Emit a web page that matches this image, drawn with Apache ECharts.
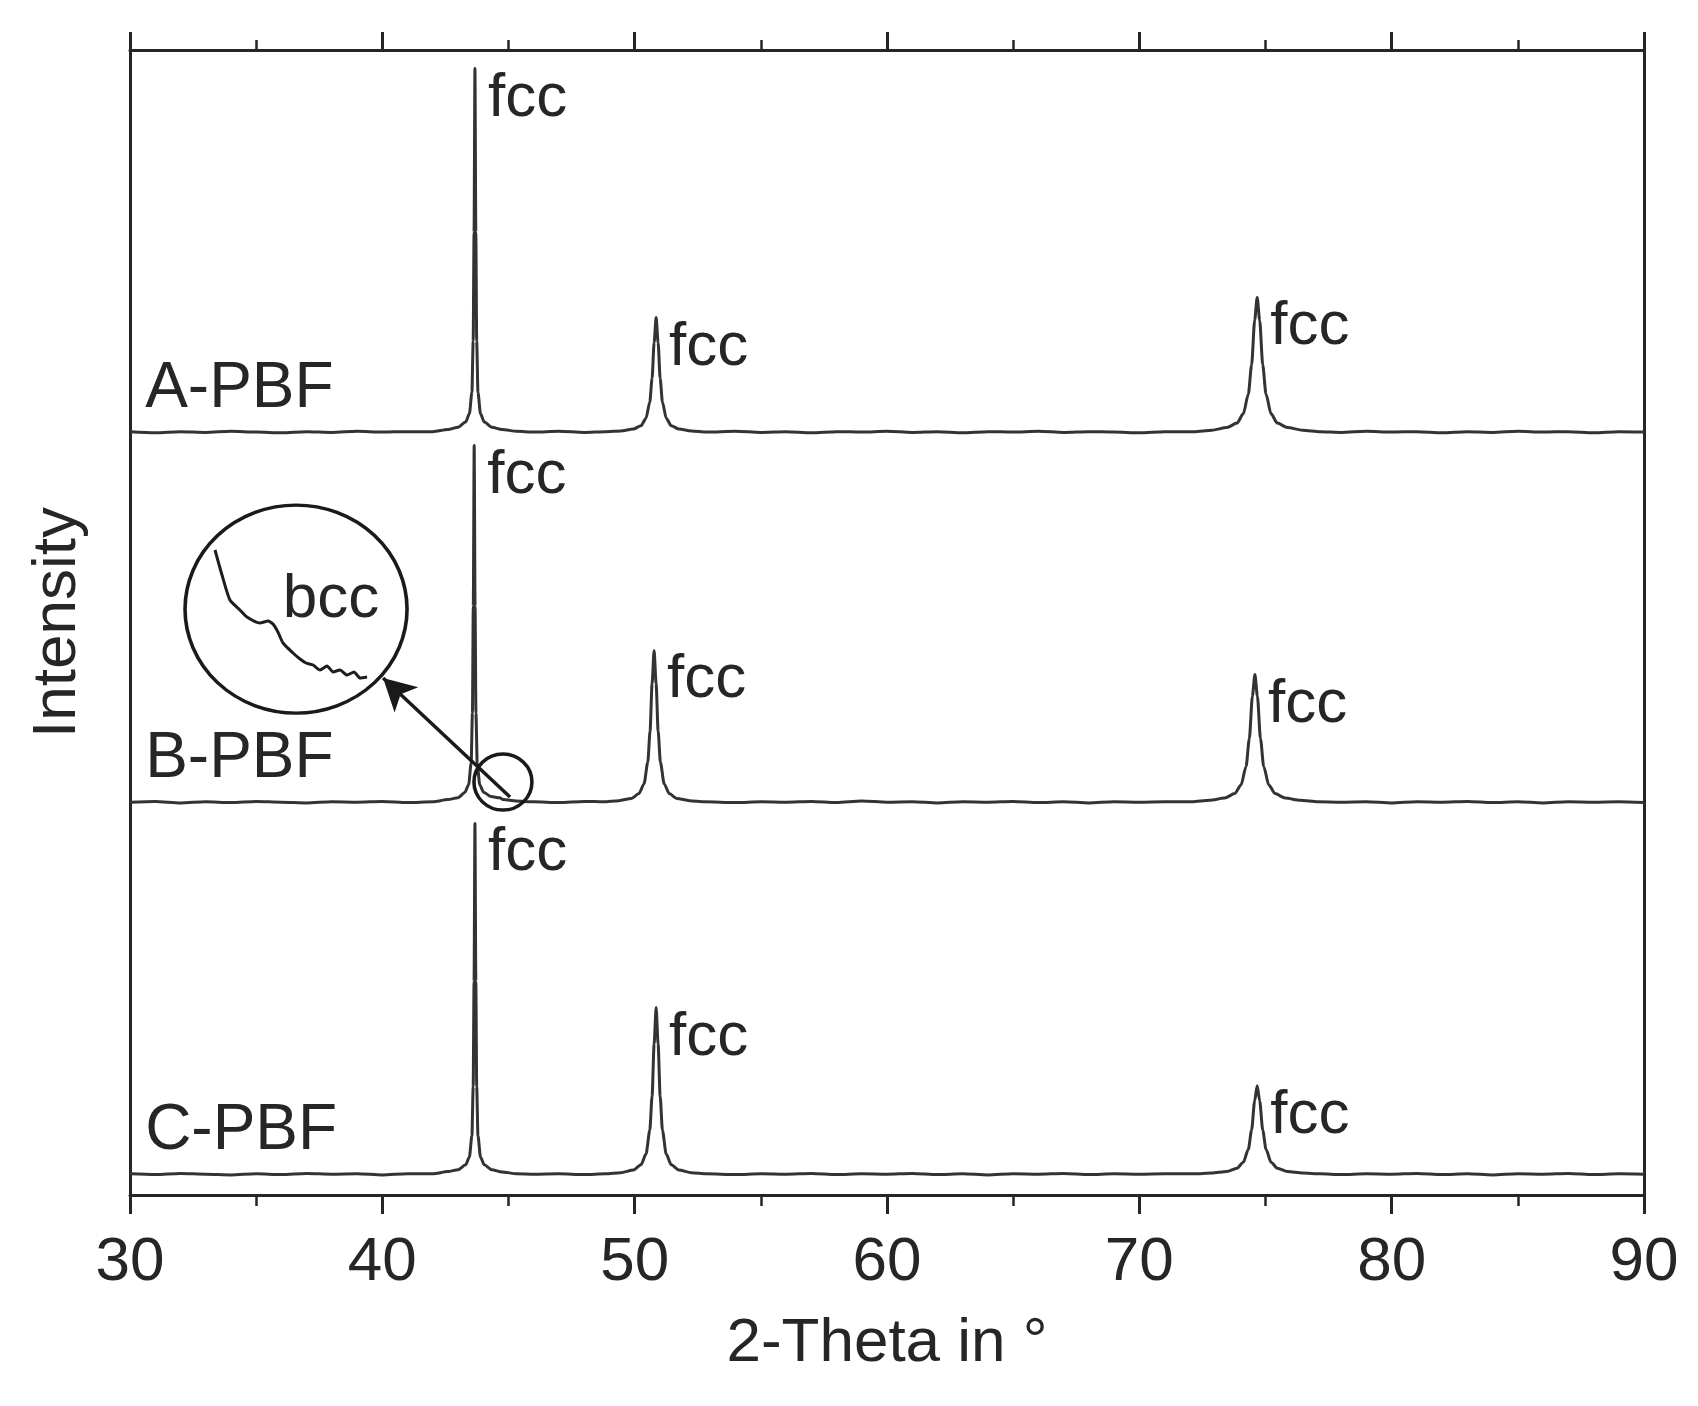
<!DOCTYPE html>
<html>
<head>
<meta charset="utf-8">
<title>XRD A/B/C-PBF</title>
<script src="https://cdn.jsdelivr.net/npm/echarts@6.0.0/dist/echarts.min.js"></script>
<style>
  html, body { margin: 0; padding: 0; background: #fff; }
  #main { width: 1698px; height: 1406px; }
</style>
</head>
<body>
<div id="main"></div>
<script>
// 2-Theta (deg) / intensity (a.u., each pattern from its own baseline)
const aPBF = [
  [30.0, 0.002], [31.0, -0.001], [32.0, 0.002], [33.0, 0.000], [34.0, 0.003], [35.0, 0.001],
  [36.0, -0.001], [37.0, 0.002], [38.0, 0.000], [39.0, 0.003], [40.0, 0.001], [41.0, 0.002],
  [42.0, 0.002], [42.6, 0.008], [43.0, 0.014], [43.3, 0.028], [43.45, 0.05], [43.55, 0.108],
  [43.6, 0.245], [43.635, 0.538], [43.67, 0.978], [43.705, 0.538], [43.74, 0.245], [43.79, 0.108],
  [43.89, 0.05], [44.04, 0.028], [44.34, 0.014], [44.74, 0.008], [45.34, 0.003],
  [46.0, 0.001], [47.0, 0.003], [48.0, 0.000],
  [48.85, 0.002], [49.45, 0.004], [49.95, 0.009], [50.25, 0.018], [50.45, 0.038], [50.6, 0.082],
  [50.69, 0.145], [50.77, 0.241], [50.85, 0.309], [50.93, 0.241], [51.01, 0.145], [51.1, 0.082],
  [51.25, 0.038], [51.45, 0.018], [51.75, 0.009], [52.25, 0.004], [52.85, 0.001],
  [54.0, 0.003], [55.0, 0.000], [56.0, 0.002], [57.0, -0.001], [58.0, 0.002], [59.0, 0.001],
  [60.0, 0.003], [61.0, 0.000], [62.0, 0.002], [63.0, -0.001], [64.0, 0.002], [65.0, 0.001],
  [66.0, 0.003], [67.0, 0.000], [68.0, 0.002], [69.0, 0.001], [70.0, -0.001], [71.0, 0.002],
  [72.17, 0.002], [72.87, 0.006], [73.47, 0.013], [73.87, 0.025], [74.12, 0.05], [74.32, 0.103],
  [74.45, 0.182], [74.57, 0.301], [74.67, 0.363], [74.77, 0.301], [74.89, 0.182], [75.02, 0.103],
  [75.22, 0.05], [75.47, 0.025], [75.87, 0.013], [76.47, 0.006], [77.17, 0.002],
  [78.0, 0.000], [79.0, 0.003], [80.0, 0.001], [81.0, 0.002], [82.0, -0.001], [83.0, 0.002],
  [84.0, 0.000], [85.0, 0.003], [86.0, 0.001], [87.0, 0.002], [88.0, -0.001], [89.0, 0.002], [90.0, 0.001]
];

const bPBF = [
  [30.0, 0.001], [31.0, 0.003], [32.0, -0.001], [33.0, 0.002], [34.0, 0.000], [35.0, 0.003],
  [36.0, 0.001], [37.0, -0.001], [38.0, 0.002], [39.0, 0.001], [40.0, 0.003], [41.0, 0.000],
  [42.0, 0.002], [42.6, 0.008], [43.0, 0.013], [43.27, 0.027], [43.42, 0.048], [43.52, 0.106],
  [43.57, 0.24], [43.605, 0.528], [43.64, 0.96], [43.675, 0.528], [43.71, 0.24], [43.76, 0.106],
  [43.86, 0.048], [44.01, 0.028], [44.31, 0.016], [44.65, 0.013], [44.8, 0.008], [45.3, 0.004],
  [46.0, 0.002], [47.0, 0.000], [48.0, 0.003],
  [48.77, 0.002], [49.37, 0.005], [49.87, 0.011], [50.17, 0.024], [50.37, 0.05], [50.52, 0.108],
  [50.61, 0.192], [50.69, 0.319], [50.77, 0.409], [50.85, 0.319], [50.93, 0.192], [51.02, 0.108],
  [51.17, 0.05], [51.37, 0.024], [51.67, 0.011], [52.17, 0.005], [52.77, 0.002],
  [54.0, 0.000], [55.0, 0.002], [56.0, 0.001], [57.0, 0.003], [58.0, 0.000], [59.0, 0.004],
  [60.0, 0.001], [61.0, 0.002], [62.0, -0.001], [63.0, 0.002], [64.0, 0.001], [65.0, 0.003],
  [66.0, 0.000], [67.0, 0.002], [68.0, -0.001], [69.0, 0.002], [70.0, 0.001], [71.0, 0.002],
  [72.08, 0.002], [72.78, 0.006], [73.38, 0.012], [73.78, 0.024], [74.03, 0.047], [74.23, 0.097],
  [74.36, 0.172], [74.48, 0.286], [74.58, 0.344], [74.68, 0.286], [74.8, 0.172], [74.93, 0.097],
  [75.13, 0.047], [75.38, 0.024], [75.78, 0.012], [76.38, 0.006], [77.08, 0.002],
  [78.0, 0.001], [79.0, 0.002], [80.0, -0.001], [81.0, 0.002], [82.0, 0.001], [83.0, 0.003],
  [84.0, 0.000], [85.0, 0.002], [86.0, -0.001], [87.0, 0.002], [88.0, 0.001], [89.0, 0.002], [90.0, 0.000]
];

const cPBF = [
  [30.0, 0.002], [31.0, 0.000], [32.0, 0.003], [33.0, 0.001], [34.0, -0.001], [35.0, 0.002],
  [36.0, 0.000], [37.0, 0.003], [38.0, 0.001], [39.0, 0.002], [40.0, -0.001], [41.0, 0.002],
  [42.0, 0.002], [42.6, 0.008], [43.0, 0.013], [43.3, 0.026], [43.45, 0.047], [43.55, 0.104],
  [43.6, 0.236], [43.635, 0.519], [43.67, 0.944], [43.705, 0.519], [43.74, 0.236], [43.79, 0.104],
  [43.89, 0.047], [44.04, 0.026], [44.34, 0.013], [44.74, 0.007], [45.34, 0.002],
  [46.0, 0.001], [47.0, 0.002], [48.0, 0.000],
  [48.85, 0.002], [49.45, 0.005], [49.95, 0.012], [50.25, 0.026], [50.45, 0.055], [50.6, 0.119],
  [50.69, 0.211], [50.77, 0.35], [50.85, 0.449], [50.93, 0.35], [51.01, 0.211], [51.1, 0.119],
  [51.25, 0.055], [51.45, 0.026], [51.75, 0.012], [52.25, 0.005], [52.85, 0.002],
  [54.0, 0.000], [55.0, 0.002], [56.0, 0.001], [57.0, 0.003], [58.0, 0.000], [59.0, 0.002],
  [60.0, 0.001], [61.0, 0.003], [62.0, 0.000], [63.0, 0.002], [64.0, -0.001], [65.0, 0.002],
  [66.0, 0.001], [67.0, 0.003], [68.0, 0.000], [69.0, 0.002], [70.0, 0.001], [71.0, 0.002],
  [72.17, 0.002], [72.87, 0.004], [73.47, 0.008], [73.87, 0.017], [74.12, 0.033], [74.32, 0.068],
  [74.45, 0.12], [74.57, 0.198], [74.67, 0.239], [74.77, 0.198], [74.89, 0.12], [75.02, 0.068],
  [75.22, 0.033], [75.47, 0.017], [75.87, 0.008], [76.47, 0.004], [77.17, 0.002],
  [78.0, 0.000], [79.0, 0.002], [80.0, 0.001], [81.0, 0.003], [82.0, 0.000], [83.0, 0.002],
  [84.0, -0.001], [85.0, 0.002], [86.0, 0.001], [87.0, 0.003], [88.0, 0.000], [89.0, 0.002], [90.0, 0.001]
];

// fcc reflections marked in each pattern
const aPeaks = [43.67, 50.85, 74.67];
const bPeaks = [43.64, 50.77, 74.58];
const cPeaks = [43.67, 50.85, 74.67];

// magnified B-PBF tail right of the main peak, showing the bcc shoulder
const insetTheta = [44.403, 44.44, 44.482, 44.535, 44.572, 44.641, 44.684, 44.71, 44.736, 44.763,
  44.816, 44.853, 44.885, 44.922, 44.959, 44.996, 45.028, 45.065, 45.102, 45.139, 45.171, 45.208];
const insetIntensity = [0.028, 0.023, 0.018, 0.016, 0.0146, 0.0134, 0.0138, 0.0132, 0.0116, 0.0094,
  0.0074, 0.0062, 0.0054, 0.005, 0.004, 0.0048, 0.0036, 0.004, 0.003, 0.0036, 0.0024, 0.0026];

const sampleNames = ['A-PBF', 'B-PBF', 'C-PBF'];
const sampleData = [aPBF, bPBF, cPBF];
const samplePeaks = [aPeaks, bPeaks, cPeaks];

// layout: vertical stacking of the three patterns
const offsets = [2.05, 1.055, 0.055];
const yMax = 3.078;

const FONT = "'Liberation Sans', Arial, sans-serif";
const INK = '#262626';
const FS = 62;

const chart = echarts.init(document.getElementById('main'));

const traceSeries = sampleNames.map(function (name, i) {
  const off = offsets[i];
  const pts = sampleData[i].map(function (p) { return [p[0], p[1] + off]; });
  const peakMarks = samplePeaks[i].map(function (t) {
    const hit = sampleData[i].find(function (p) { return p[0] === t; });
    return {
      coord: [t, hit[1] + off],
      label: {
        show: true, formatter: 'fcc', position: [13, -1], align: 'left', verticalAlign: 'top',
        fontSize: FS, color: INK, fontFamily: FONT
      }
    };
  });
  peakMarks.push({
    coord: [30.6, off + 0.116],
    label: {
      show: true, formatter: name, position: 'right', distance: 0,
      fontSize: 64, color: INK, fontFamily: FONT
    }
  });
  const s = {
    name: name,
    type: 'line',
    xAxisIndex: 0,
    yAxisIndex: 0,
    data: pts,
    showSymbol: false,
    symbol: 'none',
    smooth: 0.25,
    smoothMonotone: 'x',
    lineStyle: { color: '#333', width: 3 },
    z: 3,
    markPoint: {
      symbol: 'circle',
      symbolSize: 0,
      silent: true,
      data: peakMarks
    }
  };
  if (name === 'B-PBF') {
    s.markLine = {
      silent: true,
      symbol: ['none', 'arrow'],
      symbolSize: [26, 32],
      label: { show: false },
      lineStyle: { color: '#1a1a1a', width: 3.5, type: 'solid' },
      data: [[{ coord: [45.06, 1.07] }, { coord: [40.03, 1.39] }]]
    };
  }
  return s;
});

const option = {
  animation: false,
  backgroundColor: '#fff',
  textStyle: { fontFamily: FONT },
  grid: [
    { left: 130, right: 54, top: 50, bottom: 211 },
    { left: 205, top: 540, width: 170, height: 150 }
  ],
  xAxis: [
    {
      type: 'value', gridIndex: 0, position: 'bottom',
      min: 30, max: 90, interval: 10,
      axisLine: { onZero: false, lineStyle: { color: INK, width: 3 } },
      axisTick: { inside: false, length: 19, lineStyle: { color: INK, width: 3 } },
      minorTick: { show: true, splitNumber: 2, length: 11, lineStyle: { color: INK, width: 2.5 } },
      splitLine: { show: false },
      axisLabel: { fontSize: FS, color: INK, margin: 37, fontFamily: FONT, showMinLabel: true, showMaxLabel: true },
      name: '2-Theta in °',
      nameLocation: 'middle',
      nameGap: 118,
      nameTextStyle: { fontSize: FS, color: INK, fontFamily: FONT }
    },
    {
      type: 'value', gridIndex: 0, position: 'top',
      min: 30, max: 90, interval: 10,
      axisLine: { onZero: false, lineStyle: { color: INK, width: 3 } },
      axisTick: { inside: false, length: 18, lineStyle: { color: INK, width: 3 } },
      minorTick: { show: true, splitNumber: 2, length: 10, lineStyle: { color: INK, width: 2.5 } },
      splitLine: { show: false },
      axisLabel: { show: false }
    },
    {
      type: 'value', gridIndex: 1, min: 44.35, max: 45.25, show: false
    }
  ],
  yAxis: [
    {
      type: 'value', gridIndex: 0, position: 'left',
      min: 0, max: yMax,
      axisLine: { show: true, onZero: false, lineStyle: { color: INK, width: 3 } },
      axisTick: { show: false },
      axisLabel: { show: false },
      splitLine: { show: false },
      name: 'Intensity',
      nameLocation: 'middle',
      nameGap: 41,
      nameTextStyle: { fontSize: FS, color: INK, fontFamily: FONT }
    },
    {
      type: 'value', gridIndex: 0, position: 'right',
      min: 0, max: yMax,
      axisLine: { show: true, onZero: false, lineStyle: { color: INK, width: 3 } },
      axisTick: { show: false },
      axisLabel: { show: false },
      splitLine: { show: false }
    },
    {
      type: 'value', gridIndex: 1, min: 0, max: 0.03, show: false
    }
  ],
  series: traceSeries.concat([
    {
      name: 'bcc inset',
      type: 'line',
      xAxisIndex: 2,
      yAxisIndex: 2,
      data: insetTheta.map(function (t, i) { return [t, insetIntensity[i]]; }),
      symbol: 'none',
      smooth: 0.2,
      lineStyle: { color: '#1e1e1e', width: 3 },
      z: 4
    },
    {
      name: 'annotations',
      type: 'scatter',
      xAxisIndex: 0,
      yAxisIndex: 0,
      silent: true,
      z: 5,
      itemStyle: { color: 'rgba(0,0,0,0)', borderColor: '#1a1a1a', borderWidth: 3.5, opacity: 1 },
      data: [
        { value: [36.58, 1.575], symbolSize: [222, 208] },
        { value: [44.78, 1.11], symbolSize: [58, 56] },
        {
          value: [37.97, 1.6], symbolSize: 0,
          label: { show: true, formatter: 'bcc', position: 'inside', fontSize: FS, color: INK, fontFamily: FONT }
        }
      ]
    }
  ])
};

chart.setOption(option);
</script>
</body>
</html>
